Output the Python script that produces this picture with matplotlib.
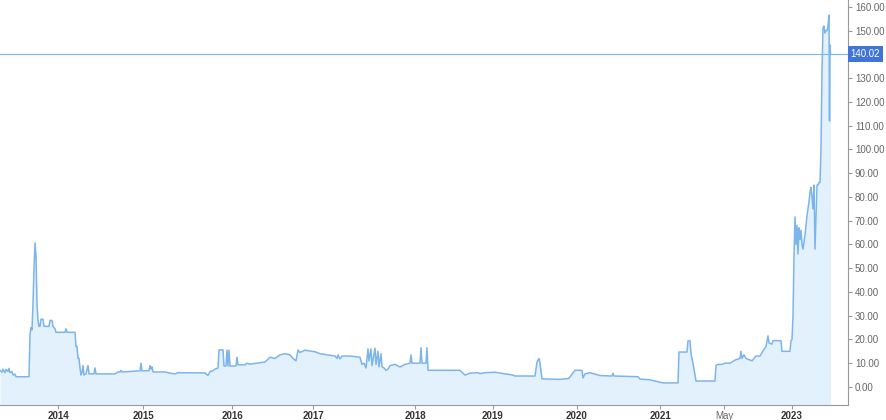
import numpy as np
import matplotlib.pyplot as plt

plt.rcParams['font.family'] = ['Liberation Sans', 'DejaVu Sans']

# ordinal x positions (stock chart, gaps removed) and closing price
pos = [0, 2, 3, 5, 6, 8, 9, 10, 12, 13, 15, 16, 29, 30, 31, 32, 33, 34, 35, 36, 37, 38, 39, 40,
       41, 43, 44, 49, 50, 52, 53, 54, 55, 56, 65, 66, 67, 75, 76, 77, 78, 79, 80, 81, 82, 83,
       84, 86, 88, 89, 94, 95, 96, 115, 118, 120, 121, 122, 140, 141, 142, 149, 150, 151, 152,
       153, 165, 170, 175, 178, 205, 208, 210, 213, 215, 218, 219, 223, 224, 226, 227, 228, 229,
       230, 236, 237, 238, 245, 247, 250, 260, 265, 270, 275, 280, 285, 290, 293, 296, 298, 300,
       305, 315, 320, 335, 337, 338, 340, 342, 350, 360, 362, 364, 366, 368, 369, 371, 372, 375,
       376, 378, 379, 381, 382, 384, 386, 388, 390, 395, 400, 405, 410, 411, 412, 420, 421, 422,
       426, 427, 428, 460, 465, 468, 470, 478, 480, 485, 495, 505, 513, 515, 535, 537, 539, 540,
       542, 560, 569, 575, 582, 583, 585, 590, 600, 612, 613, 614, 638, 640, 650, 655, 660, 663,
       678, 679, 687, 688, 690, 691, 693, 696, 715, 716, 718, 722, 725, 730, 736, 740, 741, 742,
       744, 746, 752, 756, 760, 762, 766, 768, 769, 772, 773, 778, 781, 782, 790, 791, 792, 793,
       794, 795, 796, 797, 798, 799, 800, 801, 802, 803, 805, 807, 809, 810, 811, 812, 813, 814,
       815, 816, 817, 818, 819, 820, 821, 822, 823, 824, 825, 826, 827, 828, 829, 829.5, 830,
       830.5]
price = [7.0, 6.2, 7.5, 6.0, 7.4, 6.5, 7.8, 6.0, 6.5, 5.0, 5.4, 4.3, 4.3, 22, 25, 24, 35, 50,
         60.6, 55, 35, 28, 25.5, 25.5, 28.5, 28.5, 25.5, 25.5, 28.0, 28.0, 25.5, 25.0, 24.5,
         23.0, 23.0, 24.5, 23.0, 23.0, 17, 17, 12, 12, 8, 5, 6, 9, 5, 5.5, 9, 5.5, 5.5, 8, 5.5,
         5.5, 6.3, 6.3, 7.0, 6.3, 6.8, 10, 6.8, 6.8, 9, 7.5, 8.5, 6.3, 6.3, 5.8, 5.5, 6.0, 5.9,
         4.8, 6.5, 6.8, 7.5, 8.0, 15.6, 15.6, 8.8, 8.8, 15.5, 8.8, 15.5, 8.8, 8.8, 12.5, 9.3,
         9.3, 10.0, 9.6, 10.2, 10.5, 12.5, 12.0, 13.5, 14.0, 13.5, 12.0, 11.0, 15.6, 14.5, 15.5,
         14.8, 14.0, 13.0, 12.0, 13.5, 11.8, 13.0, 13.0, 12.5, 9.5, 10.0, 8.0, 16.0, 11.0, 16.0,
         9.0, 16.3, 9.5, 15.0, 8.5, 14.0, 8.5, 8.0, 7.0, 7.5, 9.0, 9.5, 8.4, 9.5, 10.0, 13.5,
         10.0, 10.0, 16.5, 10.0, 10.0, 16.5, 7.0, 7.0, 5.0, 5.5, 5.8, 6.0, 5.6, 6.0, 6.2, 5.5,
         5.0, 4.6, 4.6, 10.5, 12, 10, 3.4, 3.2, 3.6, 7.0, 7.0, 3.8, 5.5, 6.0, 4.8, 4.6, 5.8, 4.6,
         4.3, 3.3, 3.0, 2.5, 2.0, 1.7, 1.7, 14.7, 14.7, 19.4, 19.4, 14, 10, 2.5, 2.5, 9.0, 9.5,
         9.5, 10.0, 10.0, 11.5, 12.0, 15.0, 12.0, 13.5, 12.0, 11.0, 13.0, 13.0, 14.5, 17, 21.5,
         18.5, 18, 19.5, 19.5, 19.4, 15.0, 15.0, 19.5, 20, 30, 55, 71.6, 60, 68, 56, 67, 62, 66,
         60, 58, 64, 72, 78, 82, 84, 80, 75, 85, 58, 72, 85, 85, 86, 86, 100, 133, 151, 152, 149,
         150, 150, 152, 156.6, 112, 144, 140.02]

last_price = 140.02
tick_pos = [58, 143, 232, 313, 415, 493, 577, 660, 724, 792]
tick_lab = ['2014', '2015', '2016', '2017', '2018', '2019', '2020', '2021', 'May', '2023']
y_ticks = np.arange(0, 161, 10)

fig = plt.figure(figsize=(8.86, 4.2), dpi=100)
ax = fig.add_axes([0, 15 / 420, 848 / 886, 405 / 420])

ax.fill_between(pos, price, -20, color='#e3f1fc', lw=0)
ax.plot(pos, price, color='#7cb5ec', lw=1.1)
ax.axhline(last_price, color='#7cb5ec', lw=0.8)

ax.set_xlim(0, 848)
ax.set_ylim(-7.6, 162.9)

for s in ['top', 'left']:
    ax.spines[s].set_visible(False)
ax.spines['bottom'].set_color('#999999')
ax.spines['right'].set_color('#999999')
ax.spines['bottom'].set_linewidth(0.8)
ax.spines['right'].set_linewidth(0.8)

# the 140.00 label sits under the last-price box, like in the original
ax.yaxis.tick_right()
ax.set_yticks(y_ticks)
ax.set_yticklabels(['' if v == 140 else f'{v:.2f}' for v in y_ticks])
ax.tick_params(axis='y', colors='#999999', labelcolor='#666666', labelsize=7,
               length=3, width=0.8, pad=2)

ax.set_xticks(tick_pos)
ax.set_xticklabels(tick_lab)
ax.tick_params(axis='x', colors='#999999', labelcolor='#333333', labelsize=7,
               length=3, width=0.8, pad=1)
for t in ax.get_xticklabels():
    if t.get_text() == 'May':
        t.set_color('#666666')
    else:
        t.set_fontweight('bold')

ax.text(1.003, last_price, f'{last_price:.2f}', transform=ax.get_yaxis_transform(),
        ha='left', va='center', fontsize=7, color='white',
        bbox=dict(boxstyle='square,pad=0.3', fc='#3f74d8', ec='none'))

fig.savefig('out.png', dpi=100)
